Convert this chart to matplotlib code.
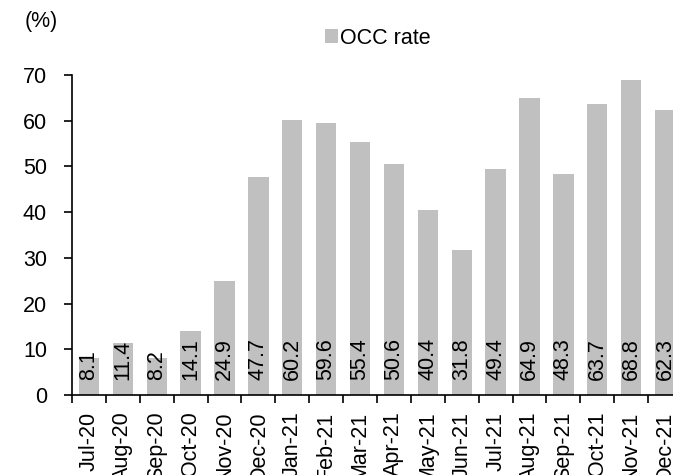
import matplotlib.pyplot as plt
import numpy as np

plt.rcParams['font.family'] = ['Liberation Sans', 'DejaVu Sans']

months = ['Jul-20', 'Aug-20', 'Sep-20', 'Oct-20', 'Nov-20', 'Dec-20',
          'Jan-21', 'Feb-21', 'Mar-21', 'Apr-21', 'May-21', 'Jun-21',
          'Jul-21', 'Aug-21', 'Sep-21', 'Oct-21', 'Nov-21', 'Dec-21']
occ_rate = [8.1, 11.4, 8.2, 14.1, 24.9, 47.7, 60.2, 59.6, 55.4, 50.6,
            40.4, 31.8, 49.4, 64.9, 48.3, 63.7, 68.8, 62.3]

bar_color = '#c0c0c0'
fs = 15.5

fig = plt.figure(figsize=(6.73, 4.75), dpi=100)
# axes run a little past the right edge of the figure
ax = fig.add_axes([72 / 673, 80 / 475, 610 / 673, 320 / 475])

x = np.arange(len(months))
bars = ax.bar(x, occ_rate, width=0.6, color=bar_color, label='OCC rate')

# value labels sit upright inside the bars, near the base
for xi, v in zip(x, occ_rate):
    ax.text(xi, 3.3, f'{v:.1f}', rotation=90, ha='center', va='bottom',
            fontsize=fs, color='black')

ax.set_xlim(-0.5, len(months) - 0.5)
ax.set_ylim(0, 70)
ax.set_yticks(range(0, 71, 10))

ax.set_xticks(x)
ax.set_xticklabels(months, rotation=90)
ax.set_xticks(np.arange(-0.5, len(months)), minor=True)
ax.tick_params(axis='x', which='major', length=0, pad=12, labelsize=fs)
ax.tick_params(axis='x', which='minor', length=6, width=1.2, direction='out')
ax.tick_params(axis='y', length=6, width=1.2, direction='out', pad=12, labelsize=fs)

for side in ['top', 'right']:
    ax.spines[side].set_visible(False)
for side in ['left', 'bottom']:
    ax.spines[side].set_linewidth(1.2)

fig.text(25 / 673, 1 - 22 / 475, '(%)', fontsize=fs, va='center', ha='left')

fig.legend(handles=[bars], labels=['OCC rate'], loc='center left',
           bbox_to_anchor=(306 / 673, 1 - 38 / 475), frameon=False,
           fontsize=fs, handlelength=0.6, handleheight=0.6, handletextpad=0.1)

fig.savefig('out.png', dpi=100)
